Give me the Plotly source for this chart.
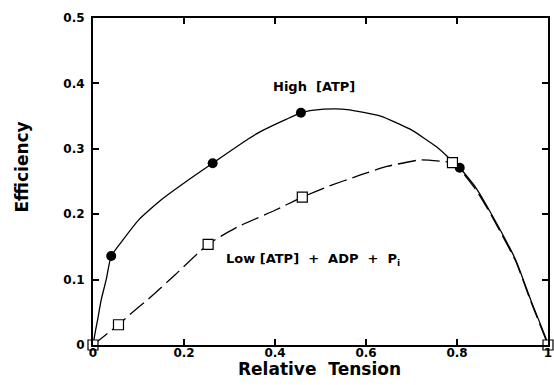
import plotly.graph_objects as go

# Measured points
high_x = [0.040, 0.263, 0.457, 0.806]
high_y = [0.136, 0.278, 0.355, 0.271]
low_x = [0.0, 0.056, 0.253, 0.460, 0.790, 1.0]
low_y = [0.0, 0.031, 0.154, 0.226, 0.279, 0.0]

# Fitted curves
high_curve_x = [0, 0.005, 0.01, 0.018, 0.029, 0.04, 0.065, 0.1, 0.15, 0.211, 0.263, 0.341, 0.37,
                0.457, 0.486, 0.53, 0.559, 0.632, 0.697, 0.755, 0.784, 0.806, 0.842, 0.875,
                0.929, 0.962, 0.994, 1.0]
high_curve_y = [0, 0.02, 0.038, 0.069, 0.1, 0.136, 0.160, 0.191, 0.222, 0.253, 0.278, 0.315, 0.327,
                0.355, 0.359, 0.361, 0.360, 0.350, 0.330, 0.303, 0.285, 0.271, 0.240, 0.201,
                0.130, 0.069, 0.013, 0]
low_curve_x = [0, 0.056, 0.08, 0.123, 0.18, 0.253, 0.319, 0.40, 0.46, 0.515, 0.588, 0.646, 0.719,
               0.766, 0.79, 0.806, 0.842, 0.875, 0.929, 0.962, 1.0]
low_curve_y = [0, 0.031, 0.046, 0.071, 0.107, 0.154, 0.181, 0.206, 0.226, 0.242, 0.260, 0.273, 0.283,
               0.281, 0.279, 0.269, 0.237, 0.199, 0.128, 0.067, 0]

x_ticks = [0, 0.2, 0.4, 0.6, 0.8, 1]
x_ticktext = ["0", "0.2", "0.4", "0.6", "0.8", "1"]
y_ticks = [0, 0.1, 0.2, 0.3, 0.4, 0.5]
y_ticktext = ["0", "0.1", "0.2", "0.3", "0.4", "0.5"]

FONT = "DejaVu Sans, Liberation Sans, Arial, sans-serif"
NB = "\u00a0"

fig = go.Figure()
fig.add_trace(go.Scatter(x=high_curve_x, y=high_curve_y, mode="lines",
                         line=dict(color="black", width=1.3, shape="spline", smoothing=0.5),
                         hoverinfo="skip", cliponaxis=False))
fig.add_trace(go.Scatter(x=low_curve_x, y=low_curve_y, mode="lines",
                         line=dict(color="black", width=1.3, dash="18px,6px", shape="spline", smoothing=0.5),
                         hoverinfo="skip", cliponaxis=False))
fig.add_trace(go.Scatter(x=high_x, y=high_y, mode="markers",
                         marker=dict(symbol="circle", size=10, color="black"), cliponaxis=False))
fig.add_trace(go.Scatter(x=low_x, y=low_y, mode="markers",
                         marker=dict(symbol="square", size=10, color="white",
                                     line=dict(color="black", width=1.2)), cliponaxis=False))

fig.add_annotation(x=0.485, y=0.395, text="High" + NB * 2 + "[ATP]", showarrow=False, xanchor="center",
                   font=dict(family=FONT, size=13, color="black", weight="bold"))
fig.add_annotation(x=0.287, y=0.131,
                   text="Low" + NB + "[ATP]" + NB * 2 + "+" + NB * 2 + "ADP" + NB * 2 + "+" + NB * 2 + "P<sub>i</sub>",
                   showarrow=False, xanchor="left",
                   font=dict(family=FONT, size=13, color="black", weight="bold"))
fig.add_annotation(xref="paper", yref="paper", x=-0.155, y=0.544, text="Efficiency", textangle=-90,
                   showarrow=False, xanchor="center", yanchor="middle",
                   font=dict(family=FONT, size=17, color="black", weight="bold"))
fig.add_annotation(xref="paper", yref="paper", x=0.497, y=-0.072, text="Relative" + NB * 2 + "Tension",
                   showarrow=False, xanchor="center", yanchor="middle",
                   font=dict(family=FONT, size=17, color="black", weight="bold"))

axis_common = dict(showgrid=False, zeroline=False, showline=True, linecolor="black", linewidth=2,
                   mirror="allticks", ticks="inside", ticklen=6, tickwidth=1.5, tickcolor="black",
                   ticklabeloverflow="allow",
                   tickfont=dict(family=FONT, size=12, color="black", weight="bold"))
fig.update_xaxes(range=[0, 1], tickvals=x_ticks, ticktext=x_ticktext, ticklabelstandoff=-4, **axis_common)
fig.update_yaxes(range=[0, 0.5], tickvals=y_ticks, ticktext=y_ticktext, ticklabelstandoff=4, **axis_common)

fig.update_layout(width=554, height=385, margin=dict(l=93, r=2, t=18, b=40),
                  plot_bgcolor="white", paper_bgcolor="white", showlegend=False)
fig.write_html("out.html")
